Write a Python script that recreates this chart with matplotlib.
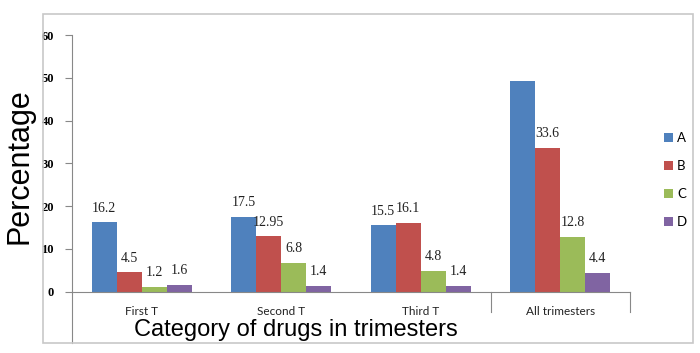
import numpy as np
import matplotlib.pyplot as plt
from matplotlib.patches import Rectangle

# data
categories = ['First T', 'Second T', 'Third T', 'All trimesters']
series = ['A', 'B', 'C', 'D']
A = [16.2, 17.5, 15.5, 49.2]
B = [4.5, 12.95, 16.1, 33.6]
C = [1.2, 6.8, 4.8, 12.8]
D = [1.6, 1.4, 1.4, 4.4]
# the reference has no label on the tallest bar
labels = [['16.2', '17.5', '15.5', ''],
          ['4.5', '12.95', '16.1', '33.6'],
          ['1.2', '6.8', '4.8', '12.8'],
          ['1.6', '1.4', '1.4', '4.4']]
colors = ['#4F81BD', '#C0504D', '#9BBB59', '#8064A2']

fig = plt.figure(figsize=(7, 3.53), dpi=100)
ax = fig.add_axes([72 / 700, 1 - 291.7 / 353, 558 / 700, 256.7 / 353])

# outer chart frame
fig.patches.append(Rectangle((43 / 700, 1 - 343 / 353), 650 / 700, 329 / 353,
                             transform=fig.transFigure, fill=False,
                             edgecolor='#C8C8C8', linewidth=1.2, zorder=0))

x = np.arange(len(categories))
w = 0.18
for i, (vals, c) in enumerate(zip([A, B, C, D], colors)):
    pos = x + (i - 1.5) * w
    bars = ax.bar(pos, vals, width=w, color=c, label=series[i], zorder=2)
    for b, lab in zip(bars, labels[i]):
        ax.text(b.get_x() + b.get_width() / 2, b.get_height() + 1.8, lab,
                ha='center', va='bottom', fontsize=10,
                family='Liberation Serif', color='#222222')

ax.set_xlim(-0.5, 3.5)
ax.set_ylim(0, 60)
ax.set_yticks(range(0, 61, 10))
for t in ax.get_yticklabels():
    t.set_fontfamily('Liberation Serif')
    t.set_fontweight('bold')
    t.set_fontsize(9)
ax.tick_params(axis='y', length=5, color='#888888', pad=8)
ax.set_xticks(x)
ax.set_xticklabels(categories, fontsize=8.5, family='Lato', color='#222222')
ax.tick_params(axis='x', length=0, pad=10)

for s in ['top', 'right']:
    ax.spines[s].set_visible(False)
ax.spines['left'].set_color('#888888')
ax.spines['bottom'].set_color('#888888')

# category separators below the axis
trans = ax.get_xaxis_transform()
ax.plot([-0.5, -0.5], [0, -0.2], transform=trans, color='#888888', lw=0.8, clip_on=False)
for b in [2.5, 3.5]:
    ax.plot([b, b], [0, -0.08], transform=trans, color='#888888', lw=0.8, clip_on=False)

fig.text(20 / 700, 1 - 166 / 353, 'Percentage', rotation=90, fontsize=22,
         family='Liberation Sans', ha='center', va='center')
fig.text(296 / 700, 1 - 330 / 353, 'Category of drugs in trimesters', fontsize=17,
         family='Liberation Sans', ha='center', va='center')

leg = fig.legend(loc='center left', bbox_to_anchor=(652 / 700, 1 - 180 / 353),
                 frameon=False, handlelength=0.7, handleheight=0.7,
                 handletextpad=0.3, labelspacing=1.2, prop={'family': 'Lato', 'size': 9.5})

plt.savefig('out.png', dpi=100)
